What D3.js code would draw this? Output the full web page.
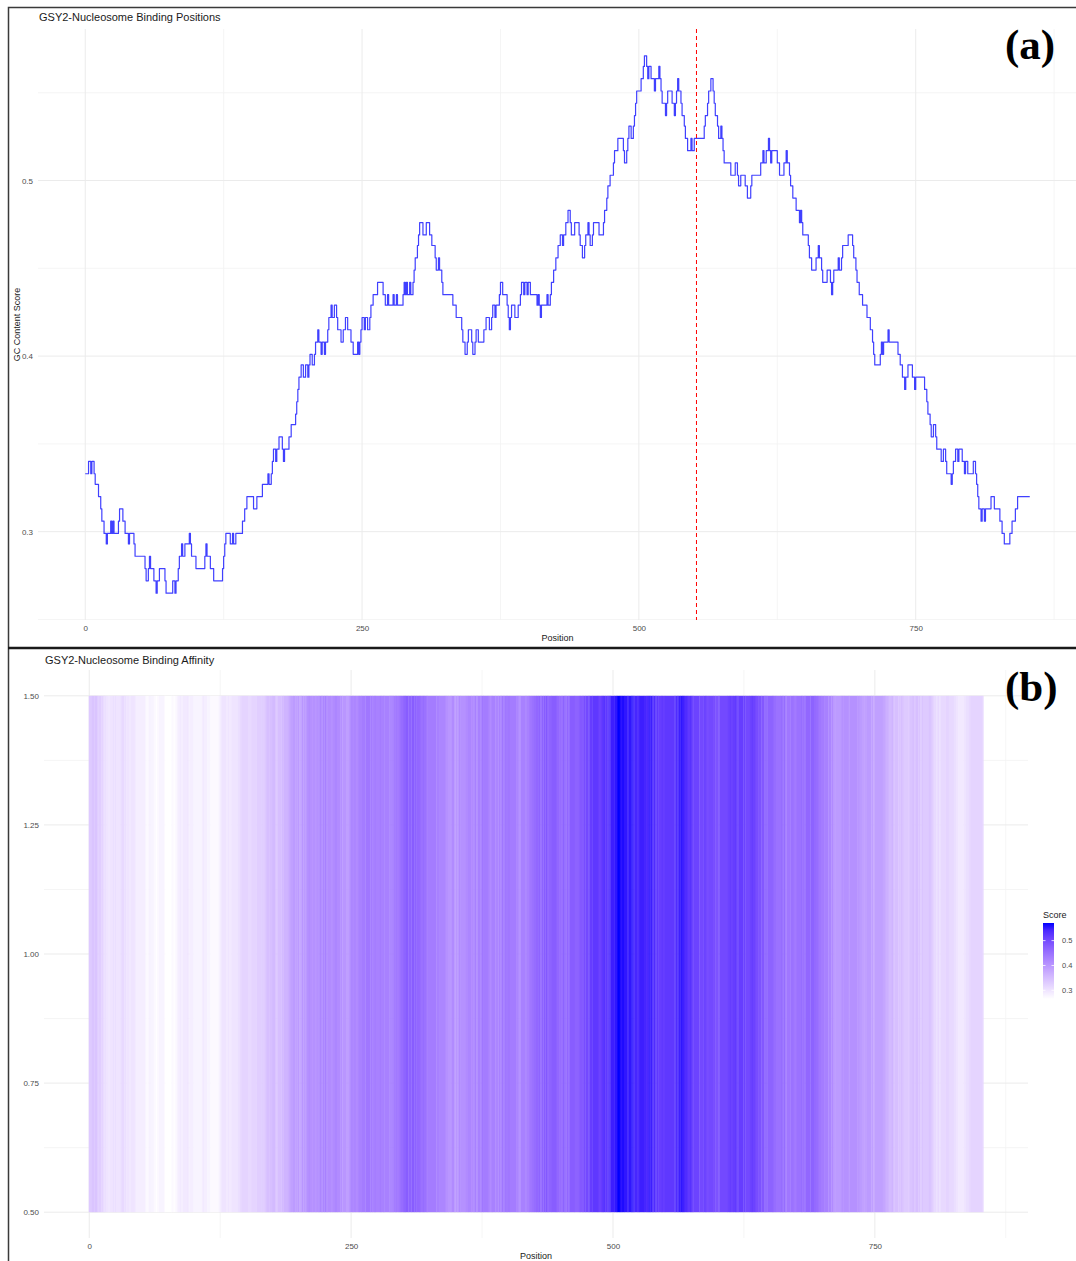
<!DOCTYPE html>
<html lang="en">
<head>
<meta charset="UTF-8">
<title>GSY2 - Nucleosome Binding</title>
<script src="https://cdn.jsdelivr.net/npm/d3@7"></script>
<style>
  body { margin: 0; background: #fff; }
  svg { display: block; font-family: "Liberation Sans", Arial, sans-serif; }
</style>
</head>
<body>
<div id="viz"></div>
<script>
// GC content (147 bp window), one entry per change of value: start position and score
const positions = [
  0, 3, 5, 6, 8, 9, 12, 14, 15, 17,
  19, 20, 23, 24, 25, 26, 30, 31, 34, 36,
  39, 40, 44, 45, 54, 55, 57, 58, 59, 62,
  64, 65, 67, 72, 73, 79, 81, 82, 84, 85,
  87, 88, 90, 94, 95, 96, 100, 108, 109, 110,
  113, 116, 124, 125, 126, 127, 131, 133, 134, 136,
  142, 144, 146, 152, 155, 160, 165, 166, 168, 169,
  170, 172, 173, 175, 178, 179, 180, 184, 186, 190,
  191, 192, 193, 195, 197, 199, 201, 202, 203, 205,
  207, 208, 210, 211, 213, 214, 216, 217, 219, 220,
  222, 223, 225, 227, 228, 231, 233, 235, 237, 240,
  242, 246, 247, 248, 249, 250, 252, 253, 255, 257,
  258, 260, 264, 269, 271, 273, 274, 278, 279, 281,
  282, 287, 288, 289, 290, 291, 293, 294, 296, 297,
  298, 300, 301, 302, 305, 308, 311, 313, 316, 317,
  319, 320, 322, 323, 332, 335, 340, 341, 343, 345,
  346, 349, 350, 352, 353, 355, 360, 362, 365, 367,
  368, 370, 371, 374, 375, 377, 381, 382, 383, 384,
  385, 388, 391, 393, 394, 396, 397, 399, 400, 402,
  408, 409, 410, 411, 412, 417, 418, 420, 421, 423,
  425, 427, 429, 431, 432, 434, 436, 438, 439, 442,
  446, 447, 449, 451, 452, 454, 455, 456, 458, 459,
  464, 468, 469, 471, 472, 474, 477, 478, 481, 486,
  487, 489, 490, 491, 493, 495, 496, 497, 498, 502,
  504, 505, 507, 508, 509, 511, 514, 515, 518, 519,
  520, 521, 524, 525, 526, 530, 532, 533, 534, 535,
  536, 538, 539, 541, 542, 544, 547, 548, 550, 559,
  560, 562, 563, 565, 567, 568, 569, 571, 572, 574,
  575, 576, 577, 583, 587, 589, 590, 592, 596, 598,
  601, 602, 610, 612, 613, 615, 617, 618, 619, 620,
  625, 627, 631, 633, 634, 636, 637, 639, 642, 645,
  646, 647, 648, 653, 654, 656, 660, 662, 663, 665,
  666, 670, 673, 674, 675, 676, 680, 681, 683, 684,
  689, 693, 694, 696, 697, 699, 702, 706, 709, 711,
  712, 713, 718, 719, 720, 721, 725, 726, 734, 736,
  738, 740, 741, 743, 747, 749, 750, 758, 760, 761,
  763, 764, 766, 768, 769, 773, 775, 777, 778, 782,
  783, 784, 786, 788, 789, 792, 794, 795, 797, 802,
  804, 805, 806, 807, 809, 810, 812, 813, 818, 821,
  826, 828, 830, 835, 837, 840, 842, 853
]
const scores = [
  .333, .340, .333, .340, .333, .327, .320, .313, .306, .299,
  .293, .299, .306, .299, .306, .299, .306, .313, .306, .299,
  .293, .299, .293, .286, .279, .272, .279, .286, .279, .272,
  .265, .272, .279, .272, .265, .272, .265, .272, .279, .286,
  .293, .286, .293, .299, .293, .286, .279, .286, .293, .286,
  .279, .272, .279, .286, .293, .299, .293, .299, .293, .299,
  .306, .313, .320, .313, .320, .327, .333, .327, .333, .340,
  .347, .340, .347, .354, .347, .340, .347, .354, .361, .367,
  .374, .381, .388, .395, .388, .395, .388, .395, .401, .395,
  .401, .408, .415, .408, .401, .408, .401, .408, .415, .422,
  .429, .422, .429, .422, .415, .408, .415, .422, .415, .408,
  .401, .408, .401, .408, .415, .422, .415, .422, .415, .422,
  .429, .435, .442, .435, .429, .435, .429, .435, .429, .435,
  .429, .435, .442, .435, .442, .435, .442, .435, .442, .449,
  .456, .463, .469, .476, .469, .476, .469, .463, .456, .449,
  .456, .449, .442, .435, .429, .422, .415, .408, .401, .408,
  .415, .408, .401, .408, .415, .408, .415, .422, .415, .422,
  .429, .422, .429, .435, .442, .435, .429, .422, .415, .422,
  .429, .422, .429, .435, .442, .435, .442, .435, .442, .435,
  .429, .435, .429, .422, .429, .435, .429, .435, .442, .449,
  .456, .463, .469, .463, .469, .476, .483, .476, .469, .476,
  .469, .463, .456, .463, .469, .476, .469, .463, .469, .476,
  .469, .476, .483, .490, .497, .503, .510, .517, .524, .517,
  .510, .517, .524, .531, .524, .531, .537, .544, .551, .558,
  .565, .571, .565, .558, .565, .558, .551, .558, .565, .558,
  .551, .544, .537, .544, .551, .544, .537, .544, .551, .558,
  .551, .544, .537, .531, .524, .517, .524, .517, .524, .531,
  .537, .544, .551, .558, .551, .544, .537, .531, .524, .531,
  .524, .517, .510, .503, .510, .503, .497, .503, .497, .490,
  .497, .503, .510, .517, .510, .517, .524, .517, .510, .517,
  .510, .503, .510, .517, .510, .503, .497, .490, .483, .476,
  .483, .476, .469, .463, .456, .449, .456, .463, .456, .449,
  .442, .449, .442, .435, .442, .449, .456, .449, .456, .463,
  .469, .463, .456, .449, .442, .435, .429, .422, .415, .408,
  .401, .395, .401, .408, .401, .408, .415, .408, .401, .395,
  .388, .381, .388, .395, .388, .381, .388, .381, .374, .367,
  .361, .354, .361, .354, .347, .340, .347, .340, .333, .327,
  .333, .340, .347, .340, .347, .340, .333, .340, .333, .340,
  .333, .327, .320, .313, .306, .313, .306, .313, .320, .313,
  .306, .299, .293, .299, .306, .313, .320, .320
]

const markerPos = 552            // red dashed line
const xTicks = [0, 250, 500, 750]
const xMinor = [125, 375, 625, 875]
const yTicksA = [0.3, 0.4, 0.5]
const yMinorA = [0.25, 0.35, 0.45, 0.55]
const yTicksB = [0.5, 0.75, 1.0, 1.25, 1.5]
const yMinorB = [0.625, 0.875, 1.125, 1.375]
const tileRow = 1
const legendTicks = [0.3, 0.4, 0.5]

const data = positions.map((p, i) => ({
    pos: p,
    score: scores[i],
    next: i < positions.length - 1 ? positions[i + 1] : p + 1
}))

const fullWidth = 1076
const fullHeight = 1261

const svg = d3.select("#viz")
    .append("svg")
    .attr("width", fullWidth)
    .attr("height", fullHeight)

// ggplot style 5% padding of the scale range
function expand(lo, hi) {
    const d = (hi - lo) * 0.05
    return [lo - d, hi + d]
}

const posExtent = d3.extent(positions)
const scoreExtent = d3.extent(scores)

const boxA = { left: 38, right: 1077, top: 29, bottom: 620 }
const boxB = { left: 44, right: 1028, top: 670, bottom: 1238 }

const xA = d3.scaleLinear().domain(expand(posExtent[0], posExtent[1])).range([boxA.left, boxA.right])
const yA = d3.scaleLinear().domain(expand(scoreExtent[0], scoreExtent[1])).range([boxA.bottom, boxA.top])
const xB = d3.scaleLinear().domain(expand(posExtent[0] - 0.5, posExtent[1] + 0.5)).range([boxB.left, boxB.right])
const yB = d3.scaleLinear().domain(expand(tileRow - 0.5, tileRow + 0.5)).range([boxB.bottom, boxB.top])

const fill = d3.scaleLinear()
    .domain(scoreExtent)
    .range(["white", "blue"])
    .interpolate(d3.interpolateLab)

function drawGrid(xs, ys, box, xMaj, xMin, yMaj, yMin) {
    const g = svg.append("g")
    g.selectAll(".vmin").data(xMin).join("line")
        .attr("x1", d => xs(d)).attr("x2", d => xs(d))
        .attr("y1", box.top).attr("y2", box.bottom)
        .attr("stroke", "#f3f3f3").attr("stroke-width", 0.8)
    g.selectAll(".hmin").data(yMin).join("line")
        .attr("y1", d => ys(d)).attr("y2", d => ys(d))
        .attr("x1", box.left).attr("x2", box.right)
        .attr("stroke", "#f3f3f3").attr("stroke-width", 0.8)
    g.selectAll(".vmaj").data(xMaj).join("line")
        .attr("x1", d => xs(d)).attr("x2", d => xs(d))
        .attr("y1", box.top).attr("y2", box.bottom)
        .attr("stroke", "#ebebeb").attr("stroke-width", 1)
    g.selectAll(".hmaj").data(yMaj).join("line")
        .attr("y1", d => ys(d)).attr("y2", d => ys(d))
        .attr("x1", box.left).attr("x2", box.right)
        .attr("stroke", "#ebebeb").attr("stroke-width", 1)
}

function styleAxis(g) {
    g.select(".domain").remove()
    g.selectAll("text").attr("fill", "#4d4d4d").attr("font-size", 8)
}

// ---------- panel (a): line ----------
drawGrid(xA, yA, boxA, xTicks, xMinor, yTicksA, yMinorA)

svg.append("g")
    .attr("transform", `translate(0,${boxA.bottom})`)
    .call(d3.axisBottom(xA).tickValues(xTicks).tickSize(0).tickPadding(5).tickFormat(d3.format("d")))
    .call(styleAxis)

svg.append("g")
    .attr("transform", `translate(${boxA.left},0)`)
    .call(d3.axisLeft(yA).tickValues(yTicksA).tickSize(0).tickPadding(5).tickFormat(d3.format(".1f")))
    .call(styleAxis)

const line = d3.line()
    .x(d => xA(d.pos))
    .y(d => yA(d.score))
    .curve(d3.curveStepAfter)

svg.append("path")
    .datum(data)
    .attr("d", line)
    .attr("fill", "none")
    .attr("stroke", "blue")
    .attr("stroke-opacity", 0.75)
    .attr("stroke-width", 1.2)
    .attr("stroke-linejoin", "round")

svg.append("line")
    .attr("x1", xA(markerPos)).attr("x2", xA(markerPos))
    .attr("y1", boxA.top).attr("y2", boxA.bottom)
    .attr("stroke", "red")
    .attr("stroke-width", 1)
    .attr("stroke-dasharray", "4,3")

svg.append("text")
    .attr("x", 39).attr("y", 21)
    .attr("font-size", 11).attr("fill", "#1a1a1a")
    .text("GSY2-Nucleosome Binding Positions")

svg.append("text")
    .attr("x", (boxA.left + boxA.right) / 2).attr("y", 641)
    .attr("text-anchor", "middle")
    .attr("font-size", 9).attr("fill", "#1a1a1a")
    .text("Position")

svg.append("text")
    .attr("transform", `translate(20,${(boxA.top + boxA.bottom) / 2}) rotate(-90)`)
    .attr("text-anchor", "middle")
    .attr("font-size", 9).attr("fill", "#1a1a1a")
    .text("GC Content Score")

// ---------- panel (b): heatmap ----------
drawGrid(xB, yB, boxB, xTicks, xMinor, yTicksB, yMinorB)

svg.append("g")
    .selectAll("rect")
    .data(data)
    .join("rect")
    .attr("x", d => xB(d.pos - 0.5))
    .attr("width", d => xB(d.next - 0.5) - xB(d.pos - 0.5) + 0.3)
    .attr("y", yB(tileRow + 0.5))
    .attr("height", yB(tileRow - 0.5) - yB(tileRow + 0.5))
    .attr("fill", d => fill(d.score))

svg.append("g")
    .attr("transform", `translate(0,${boxB.bottom})`)
    .call(d3.axisBottom(xB).tickValues(xTicks).tickSize(0).tickPadding(5).tickFormat(d3.format("d")))
    .call(styleAxis)

svg.append("g")
    .attr("transform", `translate(${boxB.left},0)`)
    .call(d3.axisLeft(yB).tickValues(yTicksB).tickSize(0).tickPadding(5).tickFormat(d3.format(".2f")))
    .call(styleAxis)

svg.append("text")
    .attr("x", 45).attr("y", 664)
    .attr("font-size", 11).attr("fill", "#1a1a1a")
    .text("GSY2-Nucleosome Binding Affinity")

svg.append("text")
    .attr("x", (boxB.left + boxB.right) / 2).attr("y", 1259)
    .attr("text-anchor", "middle")
    .attr("font-size", 9).attr("fill", "#1a1a1a")
    .text("Position")

// colour bar legend
const legY = d3.scaleLinear().domain(scoreExtent).range([999, 923])
const grad = svg.append("defs").append("linearGradient")
    .attr("id", "scoreGrad")
    .attr("x1", 0).attr("x2", 0).attr("y1", 1).attr("y2", 0)
grad.selectAll("stop")
    .data(d3.range(0, 1.0001, 0.1))
    .join("stop")
    .attr("offset", d => d)
    .attr("stop-color", d => fill(scoreExtent[0] + d * (scoreExtent[1] - scoreExtent[0])))

const legX = 1043, legW = 11
svg.append("rect")
    .attr("x", legX).attr("y", legY(scoreExtent[1]))
    .attr("width", legW).attr("height", legY(scoreExtent[0]) - legY(scoreExtent[1]))
    .attr("fill", "url(#scoreGrad)")

const legTick = svg.append("g").selectAll("g").data(legendTicks).join("g")
legTick.append("line")
    .attr("x1", legX).attr("x2", legX + 2.5)
    .attr("y1", d => legY(d)).attr("y2", d => legY(d))
    .attr("stroke", "white").attr("stroke-width", 0.8)
legTick.append("line")
    .attr("x1", legX + legW - 2.5).attr("x2", legX + legW)
    .attr("y1", d => legY(d)).attr("y2", d => legY(d))
    .attr("stroke", "white").attr("stroke-width", 0.8)
legTick.append("text")
    .attr("x", 1062).attr("y", d => legY(d))
    .attr("dy", "0.35em")
    .attr("font-size", 7.5).attr("fill", "#4d4d4d")
    .text(d => d3.format(".1f")(d))

svg.append("text")
    .attr("x", 1043).attr("y", 918)
    .attr("font-size", 9).attr("fill", "#1a1a1a")
    .text("Score")

// ---------- frame and panel letters ----------
svg.append("path")
    .attr("d", `M${fullWidth},7.5 H8.5 V${fullHeight}`)
    .attr("fill", "none").attr("stroke", "#3a3a3a").attr("stroke-width", 1.5)

svg.append("line")
    .attr("x1", 8).attr("x2", fullWidth)
    .attr("y1", 648).attr("y2", 648)
    .attr("stroke", "#1a1a1a").attr("stroke-width", 2.5)

svg.append("text")
    .attr("x", 1005).attr("y", 59)
    .attr("font-family", "'Liberation Serif', 'Times New Roman', serif")
    .attr("font-weight", "bold").attr("font-size", 43).attr("fill", "#000")
    .text("(a)")

svg.append("text")
    .attr("x", 1005).attr("y", 701)
    .attr("font-family", "'Liberation Serif', 'Times New Roman', serif")
    .attr("font-weight", "bold").attr("font-size", 43).attr("fill", "#000")
    .text("(b)")
</script>
</body>
</html>
